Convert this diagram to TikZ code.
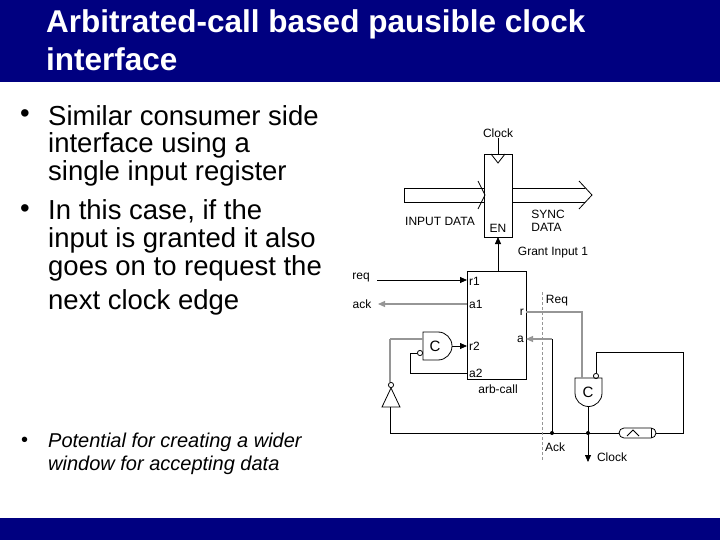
\documentclass[tikz,border=0pt]{standalone}
\usepackage{fontspec}
\setmainfont{Liberation Sans}
\usetikzlibrary{arrows.meta}
\definecolor{navy}{RGB}{0,0,128}
\definecolor{gr}{RGB}{150,150,150}
\begin{document}
\begin{tikzpicture}[x=1pt,y=-1pt,
  lbl/.style={font=\fontsize{12}{13}\selectfont,inner sep=0pt},
  wire/.style={line width=0.8pt},
  gwire/.style={line width=1.1pt,gr},
  arr/.style={-{Triangle[length=7pt,width=6pt]}},
  blt/.style={font=\fontsize{27.5}{30}\selectfont,anchor=west,inner sep=0pt},
  iblt/.style={font=\fontsize{20}{22}\selectfont\itshape,anchor=west,inner sep=0pt}]
\useasboundingbox (0,0) rectangle (720,540);
\fill[navy] (0,0) rectangle (720,82);
\fill[navy] (0,518) rectangle (720,540);
\node[anchor=west,text=white,font=\fontsize{31.5}{34}\selectfont\bfseries,inner sep=0pt] (t1) at (46,24) {Arbitrated-call based pausible clock};
\node[anchor=west,text=white,font=\fontsize{31.5}{34}\selectfont\bfseries,inner sep=0pt] (t2) at (46,59) {interface};
% bullets
\node[blt] (b1) at (20,116) {•};
\node[blt] (l1) at (48,116) {Similar consumer side};
\node[blt] (l2) at (48,145) {interface using a};
\node[blt] (l3) at (48,173) {single input register};
\node[blt] (b2) at (20,211) {•};
\node[blt] (l4) at (48,211) {In this case, if the};
\node[blt] (l5) at (48,240) {input is granted it also};
\node[blt] (l6) at (48,268) {goes on to request the};
\node[blt] (l7) at (48,302) {next clock edge};
\node[blt,font=\fontsize{20}{22}\selectfont] (b3) at (21,442) {•};
\node[iblt] (l8) at (48,442) {Potential for creating a wider};
\node[iblt] (l9) at (48,465) {window for accepting data};
% register
\node[draw,wire,minimum width=28pt,minimum height=83pt,inner sep=0pt] (reg) at (498,195.5) {};
\draw[wire] (491,154) -- (498,163) -- (505,154);
\node[lbl] (clk) at (498,133) {Clock};
\draw[wire] (clk.south) -- (498,154);
\node[lbl] (en) at (498,228) {EN};
\draw[wire] (404,188) -- (484,188) (404,202) -- (484,202) (404,188) -- (404,202);
\draw[wire] (478,181) -- (485,195) -- (478,209);
\draw[wire] (512,188) -- (585,188) (512,202) -- (585,202);
\draw[wire] (579,181) -- (592,195) -- (579,209);
\node[lbl] (ind) at (440,221) {INPUT DATA};
\node[lbl,align=left] (sync) at (548,221) {SYNC\\DATA};
% arb-call
\node[draw,wire,minimum width=59pt,minimum height=108pt,inner sep=0pt] (arb) at (496.5,325) {};
\draw[wire,arr] (498,271) -- (498,237);
\node[lbl] (gi) at (553,253) {Grant Input 1};
\node[lbl,anchor=west] (r1) at (469,281) {r1};
\node[lbl,anchor=west] (a1) at (469,304) {a1};
\node[lbl,anchor=west] (r2) at (469,346) {r2};
\node[lbl,anchor=west] (a2) at (469,373) {a2};
\node[lbl,anchor=east] (r) at (524,312) {r};
\node[lbl,anchor=east] (a) at (524,339) {a};
\node[lbl] (ac) at (498,389) {arb-call};
\node[lbl] (req) at (361,278) {req};
\node[lbl] (ack) at (362,304) {ack};
\draw[wire,arr] (377,280) -- (467,280);
\draw[gwire,arr] (467,304) -- (378,304);
% left C gate
\draw[wire] (423,332) -- (438,332) arc (-90:90:14) -- (423,360) -- cycle;
\node[lbl,font=\fontsize{15}{15}\selectfont] (cl) at (435,346) {C};
\draw[wire,arr] (452,346) -- (467,346);
\draw[gwire] (390,339) -- (423,339);
\draw[wire] (420,353) circle (2.6pt);
\draw[wire] (417.4,353) -- (410,353) -- (410,373) -- (467,373);
% inverter
\draw[wire] (382,407) -- (400,407) -- (391,388) -- cycle;
\draw[wire] (391,385) circle (2.6pt);
\draw[gwire] (390,382.4) -- (390,339);
\draw[wire] (390,407) -- (390,433) -- (619,433);
% delay
\draw[wire] (624,428) -- (651,428) arc (-90:90:5) -- (624,438) arc (90:270:5);
\draw[wire] (651,428) -- (651,438);
\draw[wire] (627,436) -- (633,430) -- (639,436);
\draw[wire] (656,433) -- (683,433) -- (683,352) -- (596,352) -- (596,373.4);
% right C gate
\draw[wire] (575,378) -- (602,378) -- (602,393) arc (0:180:13.5) -- cycle;
\node[lbl,font=\fontsize{15}{15}\selectfont] (cr) at (588,392) {C};
\draw[wire] (596,376) circle (2.6pt);
\draw[gwire] (526,312) -- (582,312) -- (582,378);
\draw[wire,arr] (588,406.5) -- (588,462);
\fill (588,433) circle (2pt);
\fill (552,433) circle (2pt);
\draw[wire] (552,433) -- (552,339);
\draw[gwire,arr] (552,339) -- (526,339);
\node[lbl] (ackl) at (555,447) {Ack};
\node[lbl] (reql) at (557,301) {Req};
\node[lbl] (clk2) at (612,457) {Clock};
\draw[wire,dashed,gr,dash pattern=on 3pt off 2pt] (542,292) -- (542,460);
\end{tikzpicture}
\end{document}
